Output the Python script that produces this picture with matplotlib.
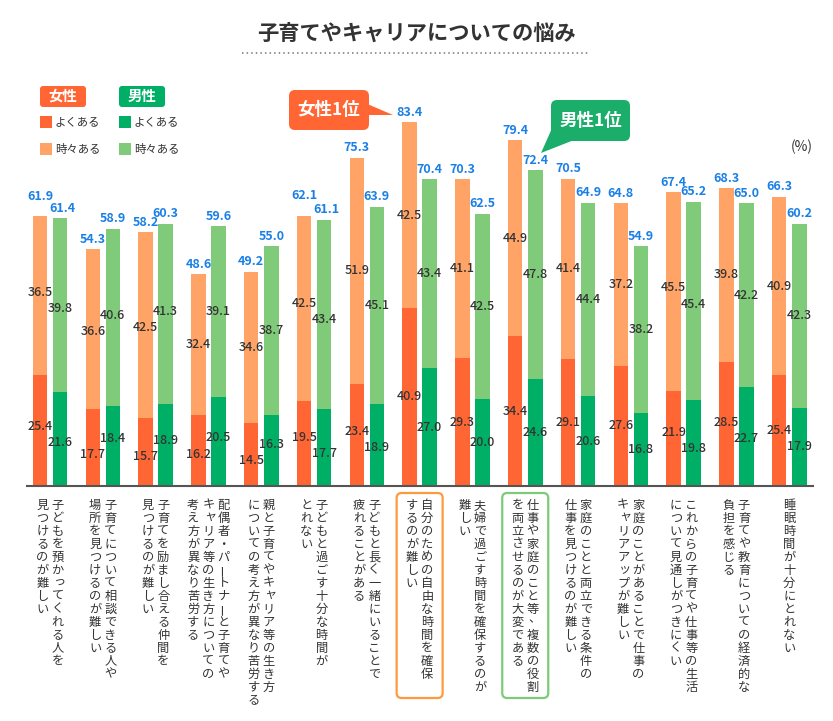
import matplotlib
matplotlib.use("Agg")
import matplotlib.pyplot as plt
from matplotlib.patches import FancyBboxPatch, Polygon, Rectangle

plt.rcParams['font.family'] = ['Noto Sans CJK JP', 'DejaVu Sans']

# データ
categories = [
    ["子どもを預かってくれる人を", "見つけるのが難しい"],
    ["子育てについて相談できる人や", "場所を見つけるのが難しい"],
    ["子育てを励まし合える仲間を", "見つけるのが難しい"],
    ["配偶者・パートナーと子育てや", "キャリア等の生き方についての", "考え方が異なり苦労する"],
    ["親と子育てやキャリア等の生き方", "についての考え方が異なり苦労する"],
    ["子どもと過ごす十分な時間が", "とれない"],
    ["子どもと長く一緒にいることで", "疲れることがある"],
    ["自分のための自由な時間を確保", "するのが難しい"],
    ["夫婦で過ごす時間を確保するのが", "難しい"],
    ["仕事や家庭のこと等、複数の役割", "を両立させるのが大変である"],
    ["家庭のことと両立できる条件の", "仕事を見つけるのが難しい"],
    ["家庭のことがあることで仕事の", "キャリアアップが難しい"],
    ["これからの子育てや仕事等の生活", "について見通しがつきにくい"],
    ["子育てや教育についての経済的な", "負担を感じる"],
    ["睡眠時間が十分にとれない"],
]
f_often = [25.4, 17.7, 15.7, 16.2, 14.5, 19.5, 23.4, 40.9, 29.3, 34.4, 29.1, 27.6, 21.9, 28.5, 25.4]
f_some = [36.5, 36.6, 42.5, 32.4, 34.6, 42.5, 51.9, 42.5, 41.1, 44.9, 41.4, 37.2, 45.5, 39.8, 40.9]
f_total = [61.9, 54.3, 58.2, 48.6, 49.2, 62.1, 75.3, 83.4, 70.3, 79.4, 70.5, 64.8, 67.4, 68.3, 66.3]
m_often = [21.6, 18.4, 18.9, 20.5, 16.3, 17.7, 18.9, 27.0, 20.0, 24.6, 20.6, 16.8, 19.8, 22.7, 17.9]
m_some = [39.8, 40.6, 41.3, 39.1, 38.7, 43.4, 45.1, 43.4, 42.5, 47.8, 44.4, 38.2, 45.4, 42.2, 42.3]
m_total = [61.4, 58.9, 60.3, 59.6, 55.0, 61.1, 63.9, 70.4, 62.5, 72.4, 64.9, 54.9, 65.2, 65.0, 60.2]

# 色
F_DARK = '#FF6633'
F_LIGHT = '#FFA466'
M_DARK = '#00AF66'
M_LIGHT = '#7FCB79'
BLUE = '#1A80E5'
TXT = '#333333'

W, H = 833, 721
fig = plt.figure(figsize=(W / 100, H / 100), dpi=100)
ax = fig.add_axes([27 / W, 1 - 486 / H, 786 / W, 436 / H])

n = len(categories)
x = list(range(n))
off = 0.19
bw = 0.275
xf = [i - off for i in x]
xm = [i + off for i in x]

ax.bar(xf, f_often, bw, color=F_DARK, zorder=2)
ax.bar(xf, f_some, bw, bottom=f_often, color=F_LIGHT, zorder=2)
ax.bar(xm, m_often, bw, color=M_DARK, zorder=2)
ax.bar(xm, m_some, bw, bottom=m_often, color=M_LIGHT, zorder=2)


def spread(yf, ym, gap=3.7):
    # 男女のラベルが上下に近すぎる場合は離す
    if abs(yf - ym) >= gap:
        return yf, ym
    c = (yf + ym) / 2
    s = 1 if yf >= ym else -1
    return c + s * gap / 2, c - s * gap / 2


for i in x:
    pairs = [
        (f_often[i] / 2, m_often[i] / 2, f_often[i], m_often[i]),
        (f_often[i] + f_some[i] / 2, m_often[i] + m_some[i] / 2, f_some[i], m_some[i]),
    ]
    for yf, ym, vf, vm in pairs:
        yf, ym = spread(yf, ym)
        ax.text(xf[i], yf, f"{vf:.1f}", ha='center', va='center', fontsize=9,
                fontweight='medium', color=TXT, zorder=3)
        ax.text(xm[i], ym, f"{vm:.1f}", ha='center', va='center', fontsize=9,
                fontweight='medium', color=TXT, zorder=3)

# 合計値（男女の値が近い場合は女性側を少し上げる）
for i in x:
    close = abs(f_total[i] - m_total[i]) <= 1.0
    ax.annotate(f"{f_total[i]:.1f}", (xf[i], f_often[i] + f_some[i]),
                xytext=(0, 9.5 if close else 2.5), textcoords='offset points',
                ha='center', va='bottom', fontsize=9, fontweight='bold', color=BLUE)
    ax.annotate(f"{m_total[i]:.1f}", (xm[i], m_often[i] + m_some[i]),
                xytext=(2 if close else 0, 2.5), textcoords='offset points',
                ha='center', va='bottom', fontsize=9, fontweight='bold', color=BLUE)

ax.set_xlim(-0.436, 14.45)
ax.set_ylim(0, 100)
for s in ['top', 'right', 'left']:
    ax.spines[s].set_visible(False)
ax.spines['bottom'].set_color('#555555')
ax.spines['bottom'].set_linewidth(1.5)
ax.set_xticks([])
ax.set_yticks([])
ax.patch.set_visible(False)

# 縦書きラベル
small = "ぁぃぅぇぉっゃゅょゎァィゥェォッャュョヮ"
char_step = 9.36
col_step = 11.0
start = 13.7
for i, cols in enumerate(categories):
    nc = len(cols)
    for j, col in enumerate(cols):
        dx = ((nc - 1) / 2 - j) * col_step
        for k, ch in enumerate(col):
            dy = -(start + k * char_step)
            rot, ox, oy = 0, 0, 0
            if ch == 'ー':
                rot = 90
            elif ch in small:
                ox, oy = 1.2, 1.2
            elif ch == '、':
                ox, oy = 1.5, 2.5
            ax.annotate(ch, xy=(i, 0), xycoords=ax.get_xaxis_transform(),
                        xytext=(dx + ox, dy + oy), textcoords='offset points',
                        ha='center', va='center', rotation=rot, fontsize=8.8,
                        color=TXT, annotation_clip=False)

# 装飾用の重ねレイヤー（ピクセル座標）
ov = fig.add_axes([0, 0, 1, 1], zorder=3)
ov.set_xlim(0, W)
ov.set_ylim(H, 0)
ov.axis('off')

# タイトル
ov.text(417, 34, "子育てやキャリアについての悩み", ha='center', va='center',
        fontsize=15.3, fontweight='bold', color=TXT)
ov.plot([242, 588], [53, 53], color='#777777', linestyle=(0, (1, 2)), lw=1.1)

# 凡例
for bx, label, dark, light in [(40, "女性", F_DARK, F_LIGHT), (119, "男性", M_DARK, M_LIGHT)]:
    ov.add_patch(FancyBboxPatch((bx, 86), 46, 21, boxstyle='round,pad=0,rounding_size=3',
                                fc=dark, ec='none'))
    ov.text(bx + 23, 96.5, label, ha='center', va='center', fontsize=10.4,
            fontweight='bold', color='white')
    ov.add_patch(Rectangle((bx, 116), 12, 12, fc=dark, ec='none'))
    ov.text(bx + 15, 122, "よくある", ha='left', va='center', fontsize=8.2, color=TXT)
    ov.add_patch(Rectangle((bx, 143), 12, 12, fc=light, ec='none'))
    ov.text(bx + 15, 149, "時々ある", ha='left', va='center', fontsize=8.2, color=TXT)

ov.text(802, 147, "(%)", ha='center', va='center', fontsize=10, color=TXT)

# 1位の吹き出し
ov.add_patch(FancyBboxPatch((289, 90), 80, 40, boxstyle='round,pad=0,rounding_size=6',
                            fc=F_DARK, ec='none'))
ov.add_patch(Polygon([(365, 103), (365, 115), (393, 115)], closed=True, fc=F_DARK, ec='none'))
ov.text(329, 110, "女性1位", ha='center', va='center', fontsize=12.6,
        fontweight='bold', color='white')

ov.add_patch(FancyBboxPatch((551, 100), 79, 41, boxstyle='round,pad=0,rounding_size=6',
                            fc='#1BAE6B', ec='none'))
ov.add_patch(Polygon([(553, 126), (574, 140), (541, 153)], closed=True, fc='#1BAE6B', ec='none'))
ov.text(590.5, 120.5, "男性1位", ha='center', va='center', fontsize=12.6,
        fontweight='bold', color='white')

# 1位項目の枠
for idx, ec in [(f_total.index(max(f_total)), '#FF9A3C'), (m_total.index(max(m_total)), '#7CCB78')]:
    cx = ax.transData.transform((idx, 0))[0]
    ov.add_patch(FancyBboxPatch((cx - 23, 493), 46, 205, boxstyle='round,pad=0,rounding_size=5',
                                fc='none', ec=ec, lw=1.6))

fig.savefig('out.png', dpi=100)
